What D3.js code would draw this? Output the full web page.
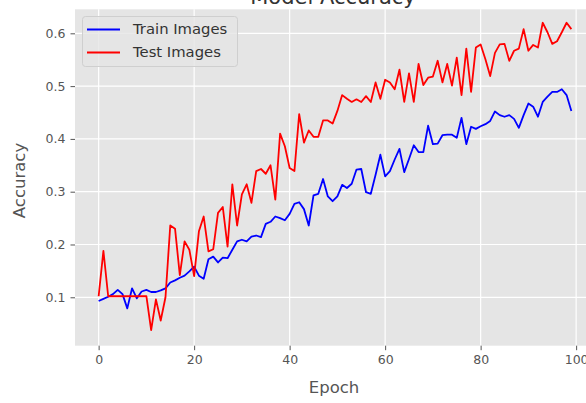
<!DOCTYPE html>
<html>
<head>
<meta charset="utf-8">
<script src="https://cdn.jsdelivr.net/npm/d3@7"></script>
<style>
  html, body { margin: 0; padding: 0; background: #fff; }
  svg { display: block; }
  text { font-family: "DejaVu Sans", sans-serif; }
</style>
</head>
<body>
<script>
const epochs = d3.range(0, 100);
const trainAcc = [
0.093,0.097,0.101,0.106,0.114,0.106,0.079,0.117,0.098,0.111,
0.114,0.110,0.110,0.113,0.117,0.128,0.132,0.137,0.141,0.149,
0.158,0.141,0.135,0.172,0.177,0.166,0.175,0.174,0.190,0.206,
0.209,0.206,0.215,0.217,0.214,0.239,0.243,0.253,0.250,0.246,
0.258,0.277,0.280,0.267,0.236,0.293,0.296,0.324,0.291,0.282,
0.291,0.313,0.307,0.315,0.342,0.343,0.299,0.296,0.332,0.370,
0.329,0.339,0.361,0.381,0.337,0.362,0.388,0.375,0.375,0.425,
0.390,0.391,0.407,0.408,0.408,0.402,0.440,0.390,0.423,0.419,
0.424,0.428,0.434,0.452,0.445,0.442,0.445,0.438,0.421,0.445,
0.467,0.461,0.442,0.470,0.480,0.489,0.489,0.494,0.483,0.453
];
const testAcc = [
0.102,0.188,0.102,0.102,0.102,0.102,0.102,0.102,0.102,0.102,
0.102,0.038,0.096,0.056,0.100,0.236,0.230,0.142,0.206,0.190,
0.140,0.225,0.253,0.187,0.191,0.260,0.271,0.196,0.314,0.236,
0.295,0.314,0.279,0.339,0.343,0.334,0.350,0.285,0.410,0.386,
0.345,0.339,0.447,0.393,0.416,0.404,0.404,0.435,0.435,0.429,
0.453,0.483,0.476,0.470,0.475,0.470,0.481,0.470,0.507,0.476,
0.512,0.507,0.494,0.531,0.470,0.524,0.470,0.542,0.502,0.516,
0.518,0.548,0.507,0.542,0.501,0.554,0.483,0.571,0.489,0.573,
0.579,0.551,0.519,0.563,0.579,0.580,0.548,0.567,0.571,0.608,
0.567,0.578,0.573,0.620,0.602,0.580,0.585,0.602,0.620,0.608
];
const seriesNames = ["Train Images", "Test Images"];
const seriesColors = ["#0000ff", "#ff0000"];
const xTicks = [0, 20, 40, 60, 80, 100];
const yTicks = [0.1, 0.2, 0.3, 0.4, 0.5, 0.6];
const titleText = "Model Accuracy";
const xLabel = "Epoch";
const yLabel = "Accuracy";

const W = 586, H = 403;
const plot = { left: 75, right: 595, top: 9.3, bottom: 345.7 };

const svg = d3.select("body").append("svg").attr("width", W).attr("height", H);

const x = d3.scaleLinear().domain([-4.95, 103.95]).range([plot.left, plot.right]);
const y = d3.scaleLinear().domain([0.0083, 0.6455]).range([plot.bottom, plot.top]);

svg.append("rect")
  .attr("x", plot.left).attr("y", plot.top)
  .attr("width", plot.right - plot.left).attr("height", plot.bottom - plot.top)
  .attr("fill", "#e5e5e5");

// grid
const grid = svg.append("g");
grid.selectAll(".gx").data(xTicks).join("line")
  .attr("x1", d => x(d)).attr("x2", d => x(d))
  .attr("y1", plot.top).attr("y2", plot.bottom)
  .attr("stroke", "#fff").attr("stroke-width", 1.2);
grid.selectAll(".gy").data(yTicks).join("line")
  .attr("x1", plot.left).attr("x2", plot.right)
  .attr("y1", d => y(d)).attr("y2", d => y(d))
  .attr("stroke", "#fff").attr("stroke-width", 1.2);

// axes
const xAxis = d3.axisBottom(x).tickValues(xTicks).tickFormat(d3.format("d")).tickSize(4.5).tickPadding(5);
const gx = svg.append("g").attr("transform", `translate(0,${plot.bottom})`).call(xAxis);
const yAxis = d3.axisLeft(y).tickValues(yTicks).tickFormat(d3.format(".1f")).tickSize(4.5).tickPadding(5);
const gy = svg.append("g").attr("transform", `translate(${plot.left},0)`).call(yAxis);
[gx, gy].forEach(g => {
  g.select(".domain").remove();
  g.selectAll(".tick line").attr("stroke", "#555").attr("stroke-width", 1);
  g.selectAll(".tick text").attr("fill", "#555").style("font-size", "12.5px").style("font-family", "DejaVu Sans, sans-serif");
});

// lines
const line = d3.line().x((d, i) => x(epochs[i])).y(d => y(d));
svg.append("clipPath").attr("id", "clip").append("rect")
  .attr("x", plot.left).attr("y", plot.top)
  .attr("width", plot.right - plot.left).attr("height", plot.bottom - plot.top);
[trainAcc, testAcc].forEach((s, k) => {
  svg.append("path").datum(s)
    .attr("d", line)
    .attr("fill", "none")
    .attr("stroke", seriesColors[k])
    .attr("stroke-width", 1.8)
    .attr("stroke-linejoin", "round")
    .attr("clip-path", "url(#clip)");
});

// labels
svg.append("text").attr("x", 334).attr("y", 388)
  .attr("text-anchor", "middle").attr("dominant-baseline", "middle")
  .attr("fill", "#555").style("font-size", "16.5px").text(xLabel);
svg.append("text")
  .attr("transform", `translate(20,${(plot.top + plot.bottom) / 2 + 3}) rotate(-90)`)
  .attr("text-anchor", "middle").attr("dominant-baseline", "middle")
  .attr("fill", "#555").style("font-size", "16.5px").text(yLabel);
svg.append("text").attr("x", 333).attr("y", 3.5)
  .attr("text-anchor", "middle")
  .attr("fill", "#333").style("font-size", "21px").text(titleText);

// legend
const lg = svg.append("g");
lg.append("rect").attr("x", 82.5).attr("y", 16.5).attr("width", 155).attr("height", 50)
  .attr("rx", 3).attr("fill", "#e5e5e5").attr("fill-opacity", 0.8)
  .attr("stroke", "#cfcfcf").attr("stroke-width", 1);
seriesNames.forEach((name, k) => {
  const yy = 29.5 + k * 23;
  lg.append("line").attr("x1", 87).attr("x2", 120).attr("y1", yy).attr("y2", yy)
    .attr("stroke", seriesColors[k]).attr("stroke-width", 1.8);
  lg.append("text").attr("x", 133).attr("y", yy).attr("dominant-baseline", "middle")
    .attr("fill", "#333").style("font-size", "14.8px").text(name);
});
</script>
</body>
</html>
